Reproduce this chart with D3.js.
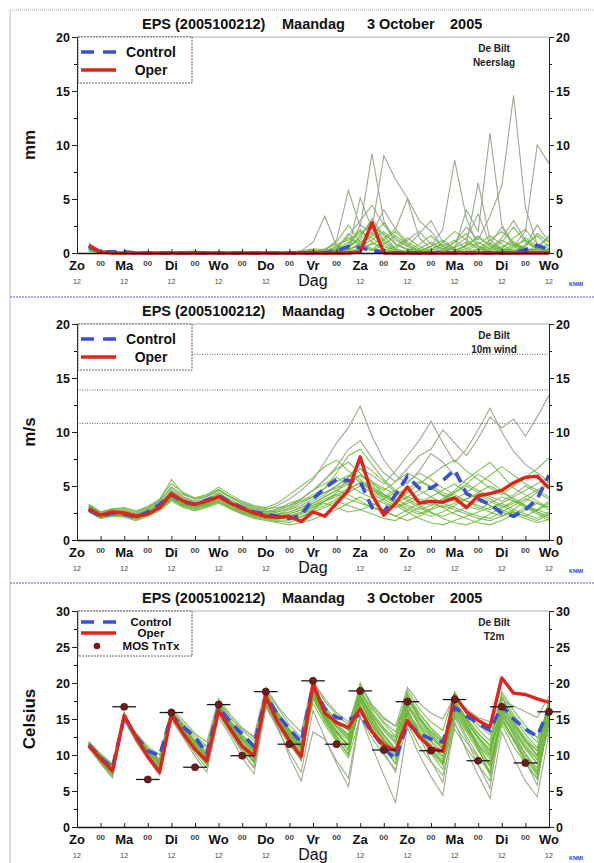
<!DOCTYPE html>
<html>
<head>
<meta charset="utf-8">
<title>EPS De Bilt</title>
<style>
  html, body { margin: 0; padding: 0; background: #fff; }
  svg { display: block; }
  text { font-family: "Liberation Sans", Arial, sans-serif; }
</style>
</head>
<body>
<div id="chart"></div>
<script src="https://d3js.org/d3.v7.min.js"></script>
<script>
// time axis: hours after 2005100212
var hours = [6,12,18,24,30,36,42,48,54,60,66,72,78,84,90,96,102,108,114,120,
             126,132,138,144,150,156,162,168,174,180,186,192,198,204,210,216,222,228,234,240];
var xTickHours = [0,12,24,36,48,60,72,84,96,108,120,132,144,156,168,180,192,204,216,228,240];
var xTickLabels = ["Zo","00","Ma","00","Di","00","Wo","00","Do","00","Vr","00","Za","00","Zo","00","Ma","00","Di","00","Wo"];
var xSubLabels = ["12","","12","","12","","12","","12","","","","12","","12","","12","","12","","12"];

// ---- Neerslag (mm)
var precipOper = [0.7,0.1,0,0,0,0,0,0,0,0,0,0,0,0,0,0,0,0,0,0,
                  0,0,0,0.1,2.8,0,0,0,0,0,0,0,0,0,0,0,0,0,0,0];
var precipControl = [0.6,0.1,0.1,0.1,0,0,0,0,0,0,0,0,0,0,0,0,0,0,0,0,
                     0,0.2,0.6,0.5,0.2,0.1,0,0,0,0,0.1,0,0,0,0,0,0,0.3,0.7,0.3];
var precipMembers = [
  [0.4,0.1,0,0,0,0,0,0,0,0,0,0,0,0,0,0,0,0,0,0.1, 0.2,1.2,5.8,2.4,9.2,3.0,0.8,0.4,0.2,0.6,2.2,8.6,3.2,0.6,0.4,1.4,3.0,1.2,0.4,0.2],
  [0.6,0.2,0,0,0,0,0,0,0,0,0,0,0,0,0,0,0,0,0.2,1.0, 3.4,0.6,0.2,5.1,2.2,9.0,6.8,5.1,3.0,2.0,0.6,0.2,0.8,6.5,1.2,0.4,0.2,0.6,2.6,1.0],
  [0.3,0,0,0,0,0,0,0,0,0,0,0,0,0,0,0,0,0,0,0.3, 0,0.4,1.6,3.0,4.4,2.6,1.2,0.6,1.8,3.0,1.0,0.4,4.0,2.0,11.1,2.6,0.8,0.2,0.4,1.6],
  [0.5,0.1,0,0,0,0,0,0,0,0,0,0,0,0,0,0,0,0,0,0, 0.1,0.2,0.6,1.4,3.2,1.6,0.4,1.2,2.0,0.8,0.3,1.0,2.4,1.2,3.4,6.2,14.6,4.2,0.8,0.4],
  [0.2,0,0,0,0,0,0,0,0,0,0,0,0,0,0,0,0,0,0,0.2, 0,0.1,0.4,2.6,1.8,4.0,2.2,5.0,1.4,0.4,0.2,0.6,1.4,3.6,0.8,2.4,0.6,2.0,10.0,8.3],
  [0.5,0,0,0,0,0,0,0,0,0,0,0,0,0,0,0,0,0,0,0.1, 0.4,0.8,1.2,2.0,1.4,0.6,0.2,0,0.1,0.4,0.8,0.3,0,0,0.2,0.6,1.0,0.4,0.1,0],
  [0.8,0.2,0,0,0,0,0,0,0.1,0.2,0,0,0,0,0,0,0,0,0,0, 0,0.2,0.6,1.2,2.4,1.8,0.8,0.3,0.1,0,0,0.2,0.6,1.4,0.8,0.3,0,0,0.4,0.8],
  [0.3,0,0,0,0,0,0,0,0,0,0,0,0,0,0,0,0,0,0.1,0.3, 0.1,0,0.3,0.8,1.6,2.8,1.4,0.6,0.2,0.1,0,0,0.1,0.4,1.2,2.0,1.0,0.4,0.2,0.1],
  [0.6,0.1,0,0,0,0,0,0,0,0,0,0,0,0,0,0,0,0,0,0, 0,0.4,1.8,0.6,0.2,0.8,1.6,0.8,0.2,0,0.3,1.0,1.8,0.6,0.1,0,0.2,0.8,1.6,0.6],
  [0.4,0,0,0,0,0,0,0,0,0.1,0.1,0,0,0,0,0,0,0,0,0.2, 0.2,0.6,0.4,1.6,3.0,1.2,0.4,0.1,0,0.2,0.6,1.2,0.4,0,0,0.4,1.4,2.2,0.8,0.2],
  [0.9,0.2,0,0,0,0,0,0,0,0,0,0,0,0,0,0,0,0,0,0, 0,0,0.2,0.4,0.8,1.4,2.2,1.0,0.4,0.1,0,0,0.2,0.8,1.6,0.8,0.2,0,0.1,0.4],
  [0.2,0,0,0,0,0,0,0,0,0,0,0,0,0,0,0,0,0,0.2,0.4, 0.3,1.0,2.6,1.0,0.4,0.2,0.6,1.4,0.6,0.2,0,0.1,0.4,1.0,0.4,0.1,0.6,1.2,0.4,0],
  [0.5,0.1,0,0,0,0,0,0,0,0,0,0,0,0,0,0,0,0,0,0, 0,0.1,0.2,1.0,1.8,0.8,0.2,0,0,0.3,1.0,2.0,1.2,0.4,0.1,0.2,0.8,0.4,0,0],
  [0.7,0.1,0,0,0,0,0,0,0.1,0,0,0,0,0,0,0,0,0,0,0.1, 0.1,0.3,0.8,2.2,1.0,0.4,0.1,0.2,0.8,1.6,0.6,0.2,0,0.3,0.9,0.4,0.1,0.6,1.8,1.0],
  [0.3,0,0,0,0,0,0,0,0,0,0,0,0,0,0,0,0,0,0,0, 0,0.2,0.4,0.6,1.2,2.0,0.8,0.3,0,0,0.1,0.5,1.0,0.4,0.2,1.0,2.4,1.0,0.3,0.1],
  [0.6,0.2,0,0,0,0,0,0,0,0,0,0,0,0,0,0,0,0,0.1,0.2, 0.2,0.4,1.0,1.8,2.6,1.0,0.3,0.1,0.4,1.0,0.4,0,0,0.2,0.6,0.3,0,0.2,0.6,1.4],
  [0.4,0,0,0,0,0,0,0,0,0,0,0,0,0,0,0,0,0,0,0, 0,0,0.1,0.3,0.9,0.4,0.1,0,0.2,0.6,1.2,0.4,0.1,0,0.4,1.2,0.6,0.2,0,0.3],
  [0.5,0.1,0,0,0,0,0,0,0,0,0,0,0,0,0,0,0,0,0,0.2, 0.1,0.6,1.4,0.8,0.3,1.2,2.0,0.8,0.2,0,0,0.2,0.7,1.6,0.6,0.2,0.4,1.4,0.6,0.2]
];

// ---- 10m wind (m/s)
var windOper = [2.9,2.3,2.6,2.5,2.2,2.4,3.0,4.3,3.6,3.3,3.6,4.0,3.4,2.9,2.5,2.2,2.1,2.2,1.7,2.6,
                2.2,3.4,4.6,7.7,4.2,2.3,3.4,4.9,3.4,3.6,3.5,3.9,3.0,4.1,4.3,4.6,5.3,5.8,5.9,4.8];
var windControl = [2.8,2.2,2.5,2.4,2.1,2.6,3.3,4.2,3.5,3.3,3.7,4.1,3.5,3.0,2.6,2.4,2.2,2.0,2.3,3.8,
                   4.8,5.6,5.5,5.4,3.0,2.6,4.2,5.9,4.8,4.8,5.5,6.5,4.3,3.8,3.3,2.5,2.2,2.8,3.8,6.0];
var windLevels = [10.8, 13.9, 17.2];
var windMembers = [
  [3.1,2.4,2.7,2.6,2.3,2.8,3.4,4.6, 3.9,3.5,3.8,4.4,3.7,3.2,2.8,2.6, 2.9,3.4,3.8,4.6,5.2,5.8,5.1,4.4, 3.9,3.4,3.0,3.6,4.2,4.8,4.1,3.6, 3.2,2.8,3.4,4.0,3.6,3.1,2.7,3.4],
  [2.7,2.1,2.3,2.2,2.0,2.4,3.0,3.9, 3.2,3.0,3.3,3.7,3.1,2.6,2.2,2.0, 1.8,1.6,2.1,2.8,3.6,4.4,5.8,6.6, 5.4,4.2,3.4,2.8,2.4,2.9,3.6,4.4, 5.2,6.1,5.4,4.6,3.8,3.2,2.6,2.2],
  [3.3,2.6,2.9,3.0,2.7,3.1,3.8,5.2, 4.4,3.9,4.2,4.9,4.2,3.6,3.2,3.0, 3.4,4.2,5.0,5.8,6.8,7.4,6.4,5.6, 4.8,4.0,4.6,5.4,6.2,5.6,4.8,4.2, 3.6,3.0,2.6,2.2,2.8,3.6,4.4,5.2],
  [2.6,2.0,2.2,2.1,1.8,2.2,2.7,3.6, 3.0,2.7,3.0,3.4,2.9,2.4,2.0,1.8, 1.6,1.4,1.6,1.9,2.4,2.8,3.4,4.0, 3.4,2.8,2.2,1.8,2.2,2.8,3.2,2.8, 2.4,2.0,1.8,2.2,2.6,2.2,1.8,2.4],
  [3.0,2.3,2.6,2.5,2.2,2.6,3.2,4.4, 3.7,3.4,3.6,4.2,3.5,3.0,2.7,2.4, 2.6,3.0,3.6,4.2,4.8,6.2,7.8,8.4, 7.0,5.6,4.6,4.0,3.6,3.2,3.8,4.6, 5.6,6.4,7.2,6.0,4.8,4.2,3.6,3.0],
  [2.9,2.2,2.5,2.4,2.1,2.5,3.1,4.1, 3.4,3.2,3.4,3.9,3.3,2.8,2.4,2.2, 2.0,1.9,2.4,3.0,3.4,3.0,2.6,2.8, 3.2,3.8,4.4,3.6,3.0,2.5,2.2,2.6, 3.0,3.6,3.2,2.8,2.4,2.0,1.6,1.9],
  [3.2,2.5,2.8,2.8,2.5,3.0,3.6,4.8, 4.0,3.6,4.0,4.6,4.0,3.4,3.0,2.8, 3.2,3.8,4.6,5.6,7.2,9.0,10.4,12.4, 9.6,7.4,6.0,5.2,6.4,8.0,7.2,6.0, 5.2,4.6,4.0,3.6,4.2,5.0,4.4,3.8],
  [2.8,2.2,2.4,2.3,2.1,2.5,3.0,4.0, 3.4,3.1,3.4,3.9,3.3,2.8,2.5,2.3, 2.4,2.8,3.2,3.8,4.4,5.0,5.8,6.6, 6.0,5.2,6.4,7.8,9.2,11.0,9.0,7.2, 8.4,10.2,12.2,10.0,8.2,7.0,6.2,5.4],
  [3.0,2.4,2.6,2.7,2.4,2.7,3.3,4.5, 3.8,3.3,3.5,4.0,3.4,2.9,2.6,2.4, 2.2,2.4,2.8,3.4,4.0,4.6,4.2,3.6, 3.0,2.6,2.2,2.8,3.4,4.0,4.6,5.2, 4.4,3.8,3.2,2.6,2.2,2.8,3.4,2.8],
  [2.8,2.1,2.4,2.3,2.0,2.3,2.9,3.8, 3.3,3.0,3.2,3.6,3.0,2.5,2.2,2.0, 1.9,2.2,2.6,3.2,3.8,4.2,4.8,5.2, 4.6,3.8,3.2,2.6,2.0,1.6,1.4,1.8, 2.2,2.6,3.0,3.4,2.8,2.4,2.0,2.6],
  [3.2,2.5,2.8,2.7,2.4,2.9,3.6,4.9, 4.2,3.8,4.1,4.7,4.0,3.5,3.1,2.9, 3.0,3.2,3.6,4.0,4.4,4.8,5.4,6.0, 5.2,4.6,5.4,6.2,5.6,4.8,4.2,3.8, 4.4,5.2,6.0,6.8,6.0,5.2,4.6,5.4],
  [2.7,2.0,2.3,2.2,1.9,2.3,2.8,3.7, 3.1,2.8,3.1,3.5,2.9,2.4,2.1,1.9, 1.7,1.8,2.2,2.6,3.0,3.6,3.2,2.8, 2.4,2.0,1.8,2.4,3.0,3.6,3.0,2.4, 2.0,1.6,1.4,1.8,2.4,3.0,2.6,2.0],
  [3.1,2.4,2.6,2.5,2.3,2.7,3.4,4.4, 3.6,3.2,3.7,4.3,3.6,3.1,2.7,2.5, 2.7,3.2,3.8,4.6,5.6,6.6,7.2,6.2, 5.0,4.2,3.6,4.4,5.2,6.0,6.8,7.4, 6.4,5.6,4.8,4.2,5.0,5.8,6.6,7.6],
  [2.9,2.3,2.5,2.4,2.2,2.6,3.1,4.2, 3.5,3.2,3.5,4.0,3.4,2.9,2.5,2.3, 2.1,2.0,2.4,2.8,3.2,3.8,4.4,5.0, 4.4,3.6,3.0,3.4,3.8,3.4,3.0,3.4, 3.8,4.2,3.6,3.0,3.4,4.0,4.6,4.0],
  [3.0,2.4,2.7,2.6,2.3,2.7,3.3,4.5, 3.8,3.4,3.7,4.2,3.6,3.1,2.8,2.6, 2.8,3.2,3.8,4.6,5.6,6.8,8.4,9.2, 7.6,6.2,5.4,6.6,7.8,8.4,10.2,9.0, 7.8,9.4,11.4,10.4,11.2,9.6,11.4,13.4],
  [2.8,2.2,2.4,2.4,2.1,2.4,3.0,4.0, 3.3,3.1,3.3,3.8,3.2,2.7,2.3,2.1, 2.0,2.2,2.6,3.0,3.6,4.2,3.8,3.4, 3.0,2.8,3.4,4.0,4.6,4.0,3.4,3.0, 2.6,2.2,2.0,2.6,3.2,3.8,3.4,3.0],
  [3.3,2.6,2.9,2.9,2.6,3.0,3.7,5.6, 4.3,3.8,4.0,4.6,3.9,3.3,2.9,2.7, 2.6,2.9,3.4,4.0,4.8,5.4,6.0,5.4, 4.6,4.0,3.4,3.0,2.6,2.2,2.6,3.2, 3.8,4.4,5.0,4.4,3.8,3.2,2.8,2.4],
  [2.7,2.1,2.3,2.3,2.0,2.4,2.9,3.8, 3.2,2.9,3.2,3.6,3.0,2.6,2.3,2.1, 2.3,2.6,3.0,3.6,4.2,5.0,5.8,7.2, 6.4,5.4,4.4,3.8,3.2,2.6,2.0,1.6, 1.4,1.8,2.4,3.0,3.6,3.0,2.4,1.8],
  [3.0,2.3,2.5,2.5,2.2,2.6,3.2,4.3, 3.6,3.3,3.6,4.1,3.5,3.0,2.6,2.4, 2.4,2.6,3.0,3.4,4.0,4.6,5.2,6.0, 5.4,4.8,4.2,4.8,5.4,5.0,4.4,4.0, 3.6,3.2,2.8,3.4,4.0,4.6,5.2,5.8],
  [2.9,2.2,2.5,2.5,2.2,2.5,3.1,4.2, 3.5,3.2,3.4,3.9,3.3,2.8,2.4,2.2, 2.2,2.4,2.8,3.2,3.6,4.0,4.6,5.4, 4.8,4.2,3.8,3.2,2.8,3.2,3.8,4.4, 5.0,4.4,3.8,3.2,2.6,2.2,2.8,3.6]
];

// ---- T2m (Celsius)
var tempOper = [11.3,9.5,7.8,15.5,12.5,9.8,7.6,15.6,13.0,10.8,9.2,16.2,13.6,11.2,9.9,18.1,14.6,12.0,9.8,19.9,
                15.8,14.5,13.8,16.4,13.2,11.4,10.6,14.8,12.5,11.0,10.5,18.2,16.0,14.8,13.9,20.7,18.6,18.4,17.8,17.3];
var tempControl = [11.4,9.6,8.2,15.3,12.6,10.6,9.9,15.5,13.9,12.5,10.2,16.6,14.6,12.9,11.2,18.3,15.6,13.6,11.8,19.7,
                   16.4,15.2,14.9,15.6,13.2,11.0,9.4,14.4,13.0,12.2,11.8,16.6,15.4,14.4,13.4,16.9,15.0,13.6,12.6,16.4];
var mosHours = [24,36,48,60,72,84,96,108,120,132,144,156,168,180,192,204,216,228,240];
var mosTemp = [16.7,6.6,15.9,8.3,17.0,9.9,18.8,11.5,20.3,11.5,18.9,10.7,17.4,10.6,17.7,9.2,16.7,8.9,16.0];
var tempMembers = [
  [11.6,9.8,8.3,15.2, 12.9,10.9,9.4,15.9, 13.8,11.9,10.2,16.8, 14.2,12.1,10.6,18.4, 15.9,13.5,11.6,19.1, 16.2,14.1,12.9,17.6, 14.1,12.0,10.4,16.2, 13.1,11.2,9.8,16.9, 14.2,11.4,8.5,15.8, 13.4,11.1,9.4,15.2],
  [11.2,9.2,7.2,15.8, 12.2,9.9,8.1,15.2, 13.0,10.9,8.9,16.1, 13.6,11.0,8.9,17.6, 14.6,12.2,10.1,18.8, 15.4,13.0,11.4,19.2, 15.8,13.4,11.6,18.2, 15.1,12.8,10.9,17.4, 14.9,12.2,10.1,17.9, 15.2,12.9,11.0,16.9],
  [11.8,10.2,8.8,14.9, 12.6,10.6,9.2,16.2, 14.4,12.8,11.2,17.4, 15.2,13.4,12.0,19.0, 16.6,14.2,12.4,20.2, 17.8,15.9,14.6,18.4, 15.2,12.8,10.9,15.4, 12.6,10.4,8.6,14.2, 11.8,9.6,7.8,14.9, 12.4,10.1,8.2,13.6],
  [11.0,8.9,7.0,15.6, 12.0,9.6,7.6,15.4, 12.6,10.2,8.2,15.6, 13.0,10.4,8.4,17.2, 14.0,11.4,9.6,18.0, 14.6,12.1,10.2,17.0, 13.6,11.2,9.4,16.8, 14.1,12.0,10.4,18.6, 15.8,13.6,12.0,18.1, 14.8,12.1,10.0,17.4],
  [11.5,9.6,8.0,15.4, 12.8,10.4,8.6,15.7, 13.4,11.2,9.6,16.4, 14.0,11.8,10.2,18.0, 15.2,12.8,11.0,19.6, 16.8,14.8,13.6,19.8, 17.0,15.2,14.0,17.6, 15.0,13.2,12.0,15.8, 13.4,11.4,9.8,16.4, 14.0,12.0,10.6,15.9],
  [11.9,10.0,8.6,15.0, 13.1,11.2,10.0,16.4, 14.8,13.0,11.8,17.8, 15.6,13.8,12.4,18.8, 16.0,13.4,11.2,17.2, 14.2,11.8,9.6,15.2, 12.4,10.0,8.0,14.4, 11.2,9.0,7.2,13.6, 11.0,8.6,6.4,14.2, 11.2,8.8,6.8,14.8],
  [11.3,9.4,7.6,15.9, 12.4,10.0,8.0,15.0, 12.8,10.6,8.8,15.8, 13.2,10.8,9.0,17.0, 14.2,11.8,9.8,18.4, 15.6,13.4,12.0,18.6, 15.4,13.6,12.4,19.0, 16.4,14.6,13.4,18.8, 16.0,14.2,12.8,17.2, 14.6,12.4,10.6,17.8],
  [11.7,9.9,8.4,15.1, 12.7,10.7,9.0,15.8, 14.0,11.8,10.0,17.0, 14.4,12.4,11.0,18.6, 15.6,13.0,11.0,19.4, 15.8,13.2,11.4,16.4, 13.2,10.8,8.8,15.6, 12.8,10.6,8.8,16.2, 13.8,11.4,9.4,15.0, 12.2,9.6,7.4,14.2],
  [11.1,9.0,7.4,15.7, 12.3,10.2,8.4,15.5, 13.2,11.0,9.2,16.2, 13.8,11.6,9.8,17.8, 14.8,12.4,10.4,19.0, 16.0,13.8,12.4,20.0, 16.6,14.4,12.6,18.4, 15.4,13.0,11.2,17.0, 14.0,10.8,7.6,16.6, 13.6,11.0,8.8,16.2],
  [11.4,9.5,7.9,15.5, 12.5,10.3,8.7,16.0, 13.6,11.4,9.8,16.6, 14.0,12.0,10.6,18.2, 15.0,12.6,10.8,18.6, 15.2,12.6,10.6,17.8, 14.6,12.0,9.8,17.2, 14.4,12.4,10.8,17.6, 15.0,13.0,11.4,18.4, 15.6,13.4,11.8,17.0],
  [11.0,8.8,6.8,14.8, 11.8,9.4,7.2,14.9, 12.4,9.8,7.6,15.2, 12.6,9.6,7.4,16.8, 13.6,10.4,7.6,16.2, 12.4,8.8,5.6,15.4, 11.2,7.2,3.4,13.8, 10.0,7.0,4.4,14.6, 10.6,7.2,4.0,13.2, 9.6,6.4,4.2,13.0],
  [11.6,9.7,8.2,15.6, 12.8,10.8,9.4,16.3, 14.2,12.4,11.0,17.6, 15.2,13.6,12.6,19.4, 16.8,14.8,13.2,20.4, 17.4,15.6,14.2,19.6, 16.8,15.0,14.0,19.4, 17.2,15.8,15.0,18.2, 16.4,15.2,14.6,17.6, 16.8,16.0,15.2,18.2],
  [11.3,9.3,7.5,15.3, 12.1,9.8,7.9,15.1, 13.0,10.6,8.6,16.0, 13.4,11.0,9.2,17.4, 14.4,11.6,9.2,17.8, 14.8,12.2,10.0,18.2, 14.8,12.2,10.2,16.0, 13.4,11.0,9.0,17.2, 14.6,11.0,7.2,16.0, 13.0,10.2,7.8,15.6],
  [11.5,9.6,8.1,15.4, 12.6,10.4,8.8,15.8, 13.5,11.4,9.7,16.9, 14.6,12.6,11.2,18.5, 15.8,13.6,11.8,19.8, 16.6,14.4,12.8,18.0, 15.6,13.4,11.8,17.8, 15.8,13.8,12.2,16.6, 14.4,12.4,10.8,18.8, 16.2,14.0,12.4,16.6],
  [11.2,9.1,7.3,15.6, 12.4,10.0,8.2,15.6, 13.1,10.8,9.0,16.4, 13.6,11.4,9.8,17.8, 15.4,13.2,11.8,18.0, 15.0,12.6,10.8,16.8, 14.2,11.8,9.8,15.8, 13.8,11.4,9.4,15.4, 13.2,10.6,8.4,15.6, 12.8,10.0,7.6,14.6],
  [11.6,9.8,8.4,15.2, 12.9,10.8,9.2,16.1, 14.0,12.0,10.6,17.2, 14.8,12.8,11.2,18.0, 15.2,12.8,10.8,19.2, 16.4,14.6,13.4,19.0, 16.4,14.6,13.2,18.6, 15.8,13.6,11.8,16.8, 14.8,12.6,10.6,16.8, 14.4,12.0,10.0,17.2],
  [11.4,9.4,7.7,15.4, 12.4,10.2,8.4,15.6, 13.2,11.0,9.4,16.2, 13.4,10.4,8.2,16.6, 14.0,9.8,6.4,13.2, 12.2,9.2,6.8,15.8, 13.6,10.4,7.6,16.6, 12.6,9.2,6.2,15.2, 12.2,8.6,5.4,16.2, 12.8,9.2,5.8,15.8],
  [11.8,10.0,8.5,15.0, 12.7,10.6,9.1,16.0, 13.9,11.8,10.3,17.1, 14.5,12.3,10.8,18.2, 15.6,13.4,11.6,19.6, 16.2,14.0,12.6,18.8, 16.0,13.8,12.0,17.0, 14.8,12.6,10.8,17.6, 15.2,13.0,11.2,15.4, 13.2,10.8,8.8,14.4],
  [11.2,9.2,7.6,15.7, 12.2,9.8,7.8,15.3, 12.9,10.6,8.8,16.0, 13.6,11.2,9.4,17.6, 14.8,12.6,10.8,18.2, 15.2,13.0,11.2,17.4, 14.4,12.2,10.4,18.0, 15.2,13.2,11.6,17.4, 14.8,12.4,10.4,17.0, 14.2,11.8,9.8,16.4],
  [11.4,9.5,7.8,15.5, 12.6,10.5,8.9,15.9, 13.6,11.6,10.0,16.8, 14.2,12.0,10.4,18.0, 15.2,13.0,11.4,18.8, 16.0,13.8,12.2,18.2, 15.0,12.6,10.6,15.6, 13.0,10.8,9.0,16.4, 14.0,11.8,10.0,16.2, 13.8,11.4,9.4,15.6],
  [11.3,9.3,7.5,15.6, 12.3,10.0,8.1,15.4, 13.0,10.7,8.9,16.2, 13.8,11.4,9.6,17.4, 14.6,11.8,9.4,18.6, 15.2,12.4,10.0,17.6, 14.0,11.2,8.8,16.4, 13.0,10.2,8.0,15.6, 12.6,9.8,7.4,15.4, 12.0,9.0,6.6,14.8],
  [11.6,9.7,8.2,15.3, 12.7,10.6,9.0,16.0, 13.8,11.6,9.9,16.9, 14.4,12.2,10.6,18.3, 15.4,13.0,11.2,18.4, 15.6,13.2,11.4,18.0, 15.2,12.8,10.8,17.0, 14.2,11.8,9.8,16.0, 13.6,11.0,8.8,14.6, 12.0,9.4,7.2,15.0]
];

var W = 594, H = 863, PH = 216;
var svg = d3.select("#chart").append("svg").attr("width", W).attr("height", H);
var x = d3.scaleLinear().domain([0, 240]).range([77, 549]);

// page frame and panel separators
svg.append("line").attr("x1", 10).attr("x2", 10).attr("y1", 10).attr("y2", H)
  .attr("stroke", "#bbb").attr("stroke-width", 1);
svg.append("line").attr("x1", 10).attr("x2", W).attr("y1", 10).attr("y2", 10)
  .attr("stroke", "#888").attr("stroke-width", 0.8).attr("stroke-dasharray", "1,1");
[297, 583].forEach(function(yy) {
  svg.append("line").attr("x1", 10).attr("x2", W).attr("y1", yy).attr("y2", yy)
    .attr("stroke", "#5a5ac8").attr("stroke-width", 1).attr("stroke-dasharray", "2,1");
});

var panels = [
  {id: "p", top: 37, ymax: 20, ticks: [0,5,10,15,20], minor: [2.5,7.5,12.5,17.5],
   unit: "mm", name: "Neerslag", oper: precipOper, control: precipControl,
   members: precipMembers, grey: [0,1,2,3,4]},
  {id: "w", top: 324, ymax: 20, ticks: [0,5,10,15,20], minor: [2.5,7.5,12.5,17.5],
   unit: "m/s", name: "10m wind", oper: windOper, control: windControl,
   members: windMembers, grey: [6,7,14], levels: windLevels},
  {id: "t", top: 611, ymax: 30, ticks: [0,5,10,15,20,25,30], minor: [2.5,7.5,12.5,17.5,22.5,27.5],
   unit: "Celsius", name: "T2m", oper: tempOper, control: tempControl,
   members: tempMembers, grey: [10,11,16], mos: true}
];

function drawPanel(p) {
  var g = svg.append("g");
  var bottom = p.top + PH;
  var y = d3.scaleLinear().domain([0, p.ymax]).range([bottom, p.top]);

  // title
  var title = [["EPS (2005100212)", 142], ["Maandag", 282], ["3 October", 367], ["2005", 450]];
  title.forEach(function(t) {
    g.append("text").attr("x", t[1]).attr("y", p.top - 8)
      .attr("font-size", 14.5).attr("font-weight", "bold").attr("fill", "#111").text(t[0]);
  });

  // top frame line
  g.append("line").attr("x1", x(0)).attr("x2", x(240)).attr("y1", p.top).attr("y2", p.top)
    .attr("stroke", "#999").attr("stroke-width", 0.8);

  (p.levels || []).forEach(function(v) {
    g.append("line").attr("x1", x(0)).attr("x2", x(240)).attr("y1", y(v)).attr("y2", y(v))
      .attr("stroke", "#333").attr("stroke-width", 0.8).attr("stroke-dasharray", "1,1.5");
  });

  svg.append("clipPath").attr("id", "clip-" + p.id).append("rect")
    .attr("x", x(0)).attr("y", p.top).attr("width", x(240) - x(0)).attr("height", PH + 3);

  var line = d3.line()
    .x(function(d, i) { return x(hours[i]); })
    .y(function(d) { return y(d); });

  var plot = g.append("g").attr("clip-path", "url(#clip-" + p.id + ")");

  plot.selectAll(".member").data(p.members).enter().append("path")
    .attr("class", "member")
    .attr("d", line)
    .attr("fill", "none")
    .attr("stroke", function(d, i) { return p.grey.indexOf(i) >= 0 ? "#98a58c" : "#6cb738"; })
    .attr("stroke-opacity", function(d, i) { return p.grey.indexOf(i) >= 0 ? 0.95 : 0.85; })
    .attr("stroke-width", 1.1);

  plot.append("path").datum(p.control).attr("d", line)
    .attr("fill", "none").attr("stroke", "#3a4fd8").attr("stroke-width", 3.6)
    .attr("stroke-dasharray", "11,7");

  plot.append("path").datum(p.oper).attr("d", line)
    .attr("fill", "none").attr("stroke", "#e2231c").attr("stroke-width", 3.4)
    .attr("stroke-linejoin", "round");

  if (p.mos) {
    var mg = g.append("g");
    mosHours.forEach(function(h, i) {
      mg.append("line").attr("x1", x(h - 6)).attr("x2", x(h + 6))
        .attr("y1", y(mosTemp[i])).attr("y2", y(mosTemp[i]))
        .attr("stroke", "#1a1a1a").attr("stroke-width", 1.3);
      mg.append("circle").attr("cx", x(h)).attr("cy", y(mosTemp[i])).attr("r", 3.6)
        .attr("fill", "#6e1f1c").attr("stroke", "#3a0d0b").attr("stroke-width", 0.6);
    });
  }

  // y axes
  var left = g.append("g").attr("transform", "translate(" + x(0) + ",0)")
    .call(d3.axisLeft(y).tickValues(p.ticks).tickSize(5).tickPadding(2).tickFormat(d3.format("d")));
  g.append("g").attr("transform", "translate(" + x(0) + ",0)")
    .call(d3.axisLeft(y).tickValues(p.minor).tickSize(3).tickFormat(""))
    .select(".domain").remove();
  var right = g.append("g").attr("transform", "translate(" + x(240) + ",0)")
    .call(d3.axisRight(y).tickValues(p.ticks).tickSize(5).tickPadding(2).tickFormat(d3.format("d")));
  g.append("g").attr("transform", "translate(" + x(240) + ",0)")
    .call(d3.axisRight(y).tickValues(p.minor).tickSize(3).tickFormat(""))
    .select(".domain").remove();
  [left, right].forEach(function(a) {
    a.selectAll("text").attr("font-size", 12.5).attr("font-weight", "bold")
      .attr("font-family", "Liberation Sans, Arial, sans-serif").attr("fill", "#111");
    a.selectAll("line, path").attr("stroke", "#222");
  });

  // x axis
  var xa = g.append("g").attr("transform", "translate(0," + bottom + ")")
    .call(d3.axisBottom(x).tickValues(xTickHours).tickSizeInner(-4).tickSizeOuter(0).tickFormat(""));
  xa.select(".domain").attr("stroke", "#111").attr("stroke-width", 1.3);
  xa.selectAll("line").attr("stroke", "#222");

  xTickHours.forEach(function(h, i) {
    var isDay = xTickLabels[i] !== "00";
    g.append("text").attr("x", x(h)).attr("y", bottom + (isDay ? 17 : 13))
      .attr("text-anchor", "middle").attr("font-weight", "bold")
      .attr("font-size", isDay ? 13 : 8).attr("fill", isDay ? "#111" : "#444")
      .text(xTickLabels[i]);
    if (xSubLabels[i]) {
      g.append("text").attr("x", x(h)).attr("y", bottom + 31)
        .attr("text-anchor", "middle").attr("font-size", 7).attr("fill", "#444")
        .text(xSubLabels[i]);
    }
  });
  g.append("text").attr("x", x(120)).attr("y", bottom + 32.6).attr("text-anchor", "middle")
    .attr("font-size", 16).attr("fill", "#111").text("Dag");
  g.append("text").attr("x", 576).attr("y", bottom + 33).attr("text-anchor", "middle")
    .attr("font-size", 5.5).attr("font-weight", "bold").attr("fill", "#3a3ad0").text("KNMI");

  // y unit label
  g.append("text").attr("transform", "translate(35," + (p.top + PH / 2) + ") rotate(-90)")
    .attr("text-anchor", "middle").attr("font-size", 17).attr("font-weight", "bold")
    .attr("fill", "#111").text(p.unit);

  // station labels
  g.append("text").attr("x", 494).attr("y", p.top + 15).attr("text-anchor", "middle")
    .attr("font-size", 10).attr("font-weight", "bold").attr("fill", "#222").text("De Bilt");
  g.append("text").attr("x", 494).attr("y", p.top + 29).attr("text-anchor", "middle")
    .attr("font-size", 10).attr("font-weight", "bold").attr("fill", "#222").text(p.name);

  // legend
  var lg = g.append("g");
  var small = !!p.mos;
  lg.append("rect").attr("x", 78).attr("y", p.top).attr("width", 114).attr("height", small ? 45 : 46)
    .attr("fill", "#fff").attr("stroke", "#555").attr("stroke-width", 0.9).attr("stroke-dasharray", "2,1");
  var ly1 = p.top + (small ? 11 : 15), ly2 = p.top + (small ? 22 : 33);
  lg.append("line").attr("x1", 81).attr("x2", 116).attr("y1", ly1).attr("y2", ly1)
    .attr("stroke", "#3a4fd8").attr("stroke-width", 3.6).attr("stroke-dasharray", "13,9");
  lg.append("line").attr("x1", 81).attr("x2", 116).attr("y1", ly2).attr("y2", ly2)
    .attr("stroke", "#e2231c").attr("stroke-width", 3.4);
  var fs = small ? 11.5 : 14;
  lg.append("text").attr("x", 151).attr("y", ly1 + fs * 0.36).attr("text-anchor", "middle")
    .attr("font-size", fs).attr("font-weight", "bold").attr("fill", "#111").text("Control");
  lg.append("text").attr("x", 151).attr("y", ly2 + fs * 0.36).attr("text-anchor", "middle")
    .attr("font-size", fs).attr("font-weight", "bold").attr("fill", "#111").text("Oper");
  if (small) {
    lg.append("circle").attr("cx", 97).attr("cy", p.top + 35).attr("r", 3.3).attr("fill", "#6e1f1c");
    lg.append("text").attr("x", 151).attr("y", p.top + 39).attr("text-anchor", "middle")
      .attr("font-size", fs).attr("font-weight", "bold").attr("fill", "#111").text("MOS TnTx");
  }
}

panels.forEach(drawPanel);
</script>
</body>
</html>
